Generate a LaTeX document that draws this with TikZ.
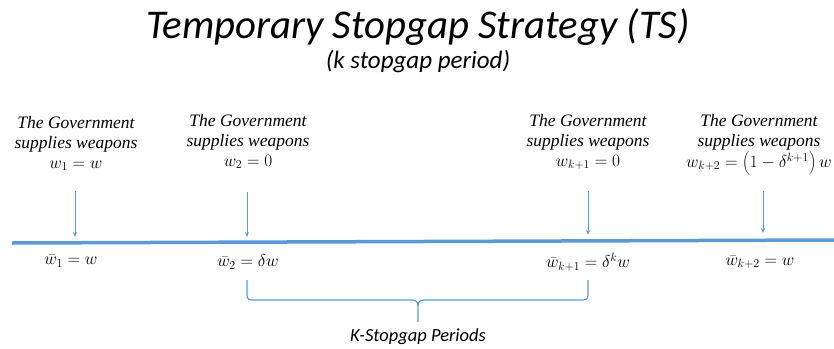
\documentclass[tikz,border=0pt]{standalone}
\usepackage{fontspec}
\setmainfont{Liberation Serif}
\newfontfamily\calfont{Carlito}
\usetikzlibrary{arrows.meta}
\definecolor{lineblue}{HTML}{5B9BD5}
\begin{document}
\begin{tikzpicture}[x=1pt,y=-1pt,
  lbl/.style={align=center,font=\fontsize{17.5}{20}\selectfont\itshape,inner sep=0pt},
  bar/.style={font=\fontsize{18}{20}\selectfont,inner sep=0pt},
  tick/.style={draw=lineblue,line width=0.8pt,-{Stealth[length=5pt,width=4pt]}}]
\useasboundingbox (0,0) rectangle (834,348);
\node[font=\calfont\fontsize{40.8}{44}\selectfont\itshape,inner sep=0pt] (title) at (418,27) {Temporary Stopgap Strategy (TS)};
\node[font=\calfont\fontsize{25}{28}\selectfont\itshape,inner sep=0pt] (sub) at (418,62) {(k stopgap period)};
\node[lbl,anchor=north] (g1) at (76,116) {The Government\\supplies weapons\\$w_1=w$};
\node[lbl,anchor=north] (g2) at (248,114) {The Government\\supplies weapons\\$w_2=0$};
\node[lbl,anchor=north] (g3) at (588,114) {The Government\\supplies weapons\\$w_{k+1}=0$};
\node[lbl,anchor=north] (g4) at (759,114) {The Government\\supplies weapons\\$w_{k+2}=\left(1-\delta^{k+1}\right)w$};
\coordinate (l0) at (12,243);
\coordinate (l1) at (834,240);
\draw[lineblue,line width=3.5pt] (l0) -- (l1);
\coordinate (a1s) at (75,191); \coordinate (a1e) at (75,237);
\coordinate (a2s) at (247,192); \coordinate (a2e) at (247,237);
\coordinate (a3s) at (588,191); \coordinate (a3e) at (588,235);
\coordinate (a4s) at (763,191); \coordinate (a4e) at (763,233);
\draw[tick] (a1s) -- (a1e);
\draw[tick] (a2s) -- (a2e);
\draw[tick] (a3s) -- (a3e);
\draw[tick] (a4s) -- (a4e);
\node[bar] (b1) at (71,261) {$\bar{w}_1=w$};
\node[bar] (b2) at (248,262) {$\bar{w}_2=\delta w$};
\node[bar] (b3) at (588,262) {$\bar{w}_{k+1}=\delta^k w$};
\node[bar] (b4) at (760,262) {$\bar{w}_{k+2}=w$};
\draw[lineblue,line width=1.2pt,line join=round]
  (247,280) -- (247,295) .. controls (247,299) and (249,300) .. (253,300)
  -- (412,300) .. controls (416,300) and (418,302) .. (418,306) -- (418,322);
\draw[lineblue,line width=1.2pt,line join=round]
  (588,280) -- (588,295) .. controls (588,299) and (586,300) .. (582,300)
  -- (424,300) .. controls (420,300) and (418,302) .. (418,306);
\node[font=\calfont\fontsize{18.5}{20}\selectfont\itshape,inner sep=0pt] (kp) at (418,337) {K-Stopgap Periods};
\end{tikzpicture}
\end{document}
